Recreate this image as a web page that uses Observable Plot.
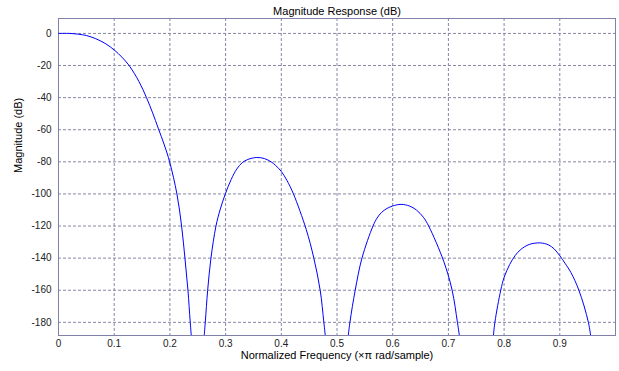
<!DOCTYPE html>
<html>
<head>
<meta charset="utf-8">
<script src="https://cdn.jsdelivr.net/npm/d3@7"></script>
<script src="https://cdn.jsdelivr.net/npm/@observablehq/plot@0.6"></script>
<style>
  html, body { margin: 0; padding: 0; background: #fff; }
  #chart { width: 619px; height: 371px; }
</style>
</head>
<body>
<div id="chart"></div>
<script>
const titleText = "Magnitude Response (dB)";
const xLabelText = "Normalized Frequency (\u00d7\u03c0 rad/sample)";
const yLabelText = "Magnitude (dB)";

const xTicks = [0, 0.1, 0.2, 0.3, 0.4, 0.5, 0.6, 0.7, 0.8, 0.9];
const xTickLabels = ["0", "0.1", "0.2", "0.3", "0.4", "0.5", "0.6", "0.7", "0.8", "0.9"];
const yTicks = [0, -20, -40, -60, -80, -100, -120, -140, -160, -180];
const yTickLabels = ["0", "-20", "-40", "-60", "-80", "-100", "-120", "-140", "-160", "-180"];

// [normalized frequency, magnitude dB], one array per lobe
const mainLobe = [
  [0, 0], [0.02, 0], [0.036, -0.5], [0.05, -1.3], [0.067, -3.3], [0.085, -6.5],
  [0.1, -10.3], [0.115, -15.2], [0.128, -20.6], [0.1445, -30], [0.158, -40],
  [0.169, -49.5], [0.179, -59], [0.19, -69.5], [0.1995, -80], [0.2126, -100],
  [0.221, -120], [0.227, -140], [0.2324, -160], [0.2365, -180], [0.240, -195]
];
const sideLobe1 = [
  [0.260, -195], [0.2635, -180], [0.2678, -160], [0.2737, -140], [0.2827, -120],
  [0.29, -110], [0.2995, -100], [0.31, -91], [0.32, -84.5], [0.33, -80.5], [0.34, -78.5],
  [0.356, -77.3], [0.37, -78], [0.3817, -80], [0.39, -82.3], [0.40, -86],
  [0.41, -91.5], [0.4218, -100], [0.4446, -122], [0.4584, -140], [0.4698, -160],
  [0.4764, -180], [0.481, -195]
];
const sideLobe2 = [
  [0.518, -195], [0.5232, -180], [0.5327, -160], [0.5448, -140], [0.5646, -120],
  [0.572, -115], [0.58, -111.5], [0.59, -109], [0.60, -107.5], [0.615, -106.5],
  [0.63, -107.5], [0.6425, -110], [0.655, -114.5], [0.6646, -120], [0.6916, -142],
  [0.7067, -160], [0.7162, -180], [0.7225, -195]
];
const sideLobe3 = [
  [0.779, -195], [0.7835, -180], [0.794, -160], [0.80, -152], [0.81, -144],
  [0.82, -138.3], [0.83, -134.6], [0.845, -131.5], [0.865, -130.5], [0.88, -131.8],
  [0.89, -134.3], [0.90, -138.5], [0.91, -143.5], [0.92, -149], [0.9343, -160],
  [0.9513, -180], [0.958, -195]
];

const lobes = [mainLobe, sideLobe1, sideLobe2, sideLobe3];
const data = lobes.flatMap((lobe, i) => lobe.map(([f, db]) => ({ f, db, lobe: i })));

const gridColor = "#8686a6";
const frameColor = "#8080a8";
const textColor = "#222";

const chart = Plot.plot({
  width: 619,
  height: 371,
  marginTop: 18,
  marginBottom: 36,
  marginLeft: 58,
  marginRight: 4,
  style: { fontFamily: "'Liberation Sans', Arial, sans-serif", fontSize: "10px", color: textColor, background: "#fff" },
  x: {
    domain: [0, 1],
    ticks: xTicks,
    tickFormat: (d) => xTickLabels[xTicks.indexOf(d)],
    tickSize: 0,
    tickPadding: 4,
    label: null
  },
  y: {
    domain: [-188.2, 9.3],
    ticks: yTicks,
    tickFormat: (d) => yTickLabels[yTicks.indexOf(d)],
    tickSize: 0,
    tickPadding: 7,
    label: null
  },
  marks: [
    Plot.gridX(xTicks.filter((d) => d > 0), { stroke: gridColor, strokeOpacity: 1, strokeDasharray: "3,2" }),
    Plot.gridY(yTicks, { stroke: gridColor, strokeOpacity: 1, strokeDasharray: "3,2" }),
    Plot.frame({ stroke: frameColor }),
    Plot.line(data, { x: "f", y: "db", z: "lobe", stroke: "#0000ff", strokeWidth: 1, curve: "catmull-rom", clip: true }),
    Plot.text([titleText], { frameAnchor: "top", dy: -11.6, fontSize: 11, fill: "#000" }),
    Plot.text([xLabelText], { frameAnchor: "bottom", dy: 23.5, fontSize: 11, fill: "#000" }),
    Plot.text([yLabelText], { frameAnchor: "left", dx: -40, dy: -4, rotate: -90, fontSize: 11, fill: "#000" })
  ]
});
document.getElementById("chart").appendChild(chart);
</script>
</body>
</html>
